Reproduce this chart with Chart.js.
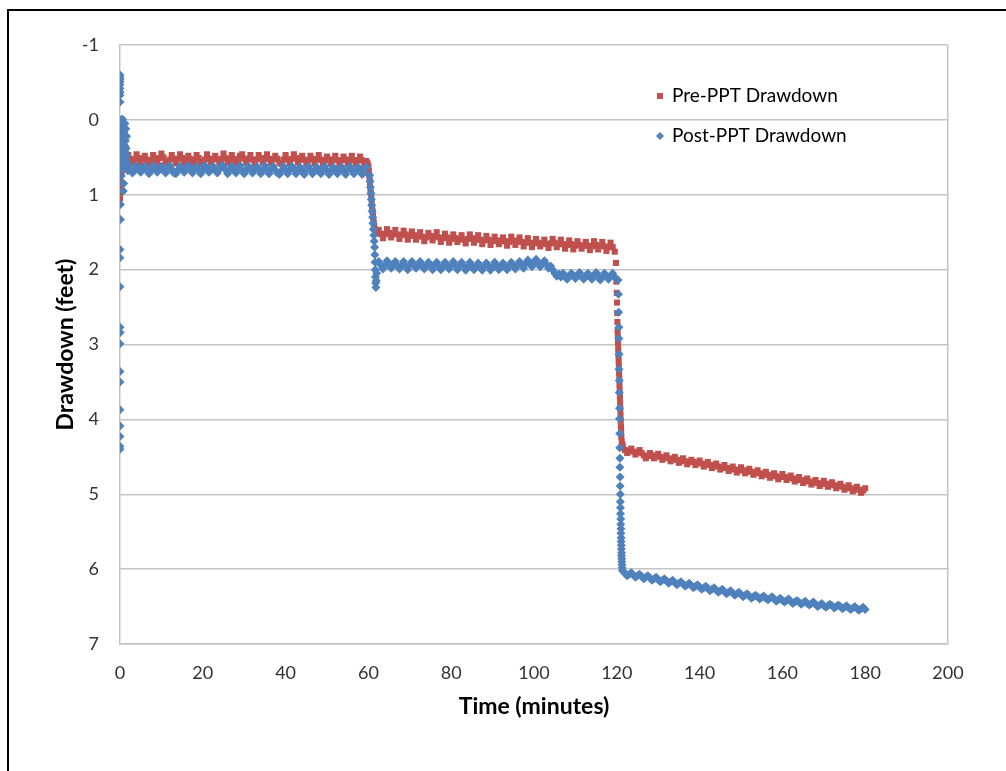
<!DOCTYPE html>
<html lang="en">
<head>
<meta charset="UTF-8">
<title>Drawdown vs Time</title>
<script src="https://cdn.jsdelivr.net/npm/chart.js"></script>
<style>
  body { margin: 0; background: #fff; }
  .frame { position: relative; width: 1006px; height: 771px; overflow: hidden; }
  .frame::before {
    content: ''; position: absolute; left: 7px; top: 9px; right: -10px; bottom: -10px;
    border-top: 2px solid #000; border-left: 2px solid #000;
  }
  #chart { position: absolute; left: 0; top: 0; }
</style>
</head>
<body>
<div class="frame">
  <canvas id="chart" width="1006" height="771"></canvas>
</div>
<script>
// --- logger readings (minutes, feet of drawdown) ---

// start-up transient
const preStartTime = [0, 0, 0, 0.05, 0.05, 0.1, 0.1, 0.15, 0.15, 0.2, 0.2, 0.25, 0.25, 0.3, 0.4, 0.5, 0.6, 0.7, 0.8, 1.0, 1.2, 1.5,
  0.3, 0.4, 0.2, 0.5];
const preStartFt   = [1.05, 0.98, 0.90, 0.82, 0.74, 0.66, 0.58, 0.50, 0.42, 0.34, 0.26, 0.18, 0.10, 0.03, 0.0, 0.08, 0.16, 0.24, 0.32, 0.40, 0.45, 0.47,
  0.85, 0.70, 0.95, 0.60];

const postStartTime = [0, 0, 0, 0, 0, 0, 0, 0, 0,
  0.1, 0.1, 0, 0, 0, 0, 0.05, 0, 0, 0, 0, 0, 0, 0, 0,
  0.2, 0.4, 0.6, 0.3, 0.5, 0.7, 0.4, 0.6, 0.8, 0.5, 0.7, 0.9, 0.6, 0.8, 1.0, 1.2, 1.1, 1.3, 1.5, 1.7, 0.9, 0.8, 1.0, 1.4,
  1.2, 1.4, 1.6, 1.0, 1.2, 1.5, 0.9, 1.3, 1.6, 1.1, 0.3, 0.4, 1.8, 1.9];
const postStartFt = [-0.60, -0.57, -0.54, -0.51, -0.47, -0.42, -0.37, -0.33, -0.24,
  1.13, 1.33, 1.73, 1.84, 2.23, 2.77, 2.84, 2.99, 3.36, 3.50, 3.87, 4.09, 4.23, 4.36, 4.40,
  0.0, 0.0, -0.01, 0.06, 0.10, 0.14, 0.20, 0.25, 0.30, 0.35, 0.40, 0.45, 0.50, 0.55, 0.60, 0.35, 0.25, 0.45, 0.55, 0.62, 0.85, 0.95, 0.15, 0.50,
  0.05, 0.12, 0.22, 0.30, 0.42, 0.38, 0.18, 0.28, 0.48, 0.52, 0.75, 0.65, 0.58, 0.68];

// first pumping step
const step1Time = [
  2, 2.5, 3, 3.5, 4, 4.5, 5, 5.5, 6, 6.5,
  7, 7.5, 8, 8.5, 9, 9.5, 10, 10.5, 11, 11.5,
  12, 12.5, 13, 13.5, 14, 14.5, 15, 15.5, 16, 16.5,
  17, 17.5, 18, 18.5, 19, 19.5, 20, 20.5, 21, 21.5,
  22, 22.5, 23, 23.5, 24, 24.5, 25, 25.5, 26, 26.5,
  27, 27.5, 28, 28.5, 29, 29.5, 30, 30.5, 31, 31.5,
  32, 32.5, 33, 33.5, 34, 34.5, 35, 35.5, 36, 36.5,
  37, 37.5, 38, 38.5, 39, 39.5, 40, 40.5, 41, 41.5,
  42, 42.5, 43, 43.5, 44, 44.5, 45, 45.5, 46, 46.5,
  47, 47.5, 48, 48.5, 49, 49.5, 50, 50.5, 51, 51.5,
  52, 52.5, 53, 53.5, 54, 54.5, 55, 55.5, 56, 56.5,
  57, 57.5, 58, 58.5, 59, 59.5];
const preStep1Ft = [
  0.47, 0.52, 0.58, 0.53, 0.46, 0.51, 0.57, 0.52, 0.48, 0.53,
  0.59, 0.54, 0.47, 0.52, 0.57, 0.51, 0.45, 0.50, 0.56, 0.58,
  0.53, 0.47, 0.52, 0.58, 0.52, 0.46, 0.51, 0.57, 0.53, 0.48,
  0.52, 0.58, 0.54, 0.47, 0.51, 0.56, 0.59, 0.53, 0.46, 0.52,
  0.57, 0.52, 0.48, 0.53, 0.58, 0.52, 0.45, 0.51, 0.57, 0.53,
  0.47, 0.52, 0.58, 0.54, 0.48, 0.46, 0.52, 0.57, 0.52, 0.47,
  0.53, 0.59, 0.53, 0.47, 0.51, 0.57, 0.52, 0.46, 0.52, 0.58,
  0.53, 0.48, 0.52, 0.57, 0.59, 0.53, 0.47, 0.53, 0.58, 0.52,
  0.46, 0.51, 0.57, 0.53, 0.48, 0.53, 0.59, 0.54, 0.48, 0.52,
  0.58, 0.53, 0.47, 0.53, 0.59, 0.54, 0.49, 0.53, 0.58, 0.53,
  0.48, 0.54, 0.60, 0.54, 0.49, 0.53, 0.59, 0.54, 0.48, 0.54,
  0.59, 0.54, 0.49, 0.54, 0.60, 0.55];
const postStep1Ft = [
  0.62, 0.66, 0.71, 0.67, 0.61, 0.66, 0.70, 0.65, 0.62, 0.67,
  0.72, 0.67, 0.61, 0.65, 0.70, 0.66, 0.62, 0.67, 0.71, 0.66,
  0.61, 0.66, 0.71, 0.72, 0.67, 0.62, 0.66, 0.70, 0.65, 0.61,
  0.66, 0.71, 0.66, 0.62, 0.67, 0.72, 0.67, 0.61, 0.65, 0.70,
  0.66, 0.62, 0.67, 0.71, 0.66, 0.61, 0.62, 0.67, 0.72, 0.67,
  0.62, 0.66, 0.71, 0.66, 0.61, 0.67, 0.72, 0.67, 0.62, 0.66,
  0.71, 0.67, 0.62, 0.66, 0.72, 0.67, 0.61, 0.67, 0.72, 0.66,
  0.62, 0.67, 0.71, 0.73, 0.68, 0.62, 0.67, 0.72, 0.67, 0.62,
  0.66, 0.72, 0.67, 0.63, 0.68, 0.73, 0.67, 0.62, 0.67, 0.72,
  0.68, 0.63, 0.67, 0.72, 0.67, 0.62, 0.68, 0.73, 0.68, 0.63,
  0.67, 0.72, 0.68, 0.63, 0.68, 0.73, 0.67, 0.62, 0.67, 0.72,
  0.68, 0.63, 0.68, 0.73, 0.67, 0.63];

// rate change at 60 minutes
const preDrop1Time = [59.8, 60.0, 60.1, 60.2, 60.3, 60.4, 60.5, 60.6, 60.7, 60.8, 60.9, 61.0, 61.1, 61.2, 61.3, 61.4, 61.5, 61.7, 62.0];
const preDrop1Ft   = [0.58, 0.62, 0.68, 0.74, 0.80, 0.86, 0.92, 0.98, 1.04, 1.10, 1.16, 1.22, 1.28, 1.33, 1.38, 1.42, 1.46, 1.49, 1.52];
const postDrop1Time = [60.3, 60.4, 60.5, 60.6, 60.7, 60.8, 60.9, 61.0, 61.1, 61.2, 61.3, 61.4, 61.5, 61.55, 61.6, 61.65, 61.7, 61.75, 61.8, 61.9, 62.0];
const postDrop1Ft   = [0.74, 0.82, 0.90, 0.98, 1.06, 1.14, 1.22, 1.30, 1.38, 1.46, 1.54, 1.62, 1.70, 1.80, 1.90, 2.00, 2.10, 2.18, 2.24, 2.15, 2.05];

// second pumping step
const step2Time = [
  62.5, 63, 63.5, 64, 64.5, 65, 65.5, 66, 66.5,
  67, 67.5, 68, 68.5, 69, 69.5, 70, 70.5, 71, 71.5,
  72, 72.5, 73, 73.5, 74, 74.5, 75, 75.5, 76, 76.5,
  77, 77.5, 78, 78.5, 79, 79.5, 80, 80.5, 81, 81.5,
  82, 82.5, 83, 83.5, 84, 84.5, 85, 85.5, 86, 86.5,
  87, 87.5, 88, 88.5, 89, 89.5, 90, 90.5, 91, 91.5,
  92, 92.5, 93, 93.5, 94, 94.5, 95, 95.5, 96, 96.5,
  97, 97.5, 98, 98.5, 99, 99.5, 100, 100.5, 101, 101.5,
  102, 102.5, 103, 103.5, 104, 104.5, 105, 105.5, 106, 106.5,
  107, 107.5, 108, 108.5, 109, 109.5, 110, 110.5, 111, 111.5,
  112, 112.5, 113, 113.5, 114, 114.5, 115, 115.5, 116, 116.5,
  117, 117.5, 118, 118.5, 119, 119.5];
const preStep2Ft = [
  1.47, 1.52, 1.58, 1.53, 1.46, 1.51, 1.57, 1.52, 1.47,
  1.53, 1.59, 1.54, 1.48, 1.53, 1.60, 1.55, 1.49, 1.54, 1.60,
  1.55, 1.50, 1.56, 1.62, 1.57, 1.51, 1.55, 1.61, 1.56, 1.50,
  1.57, 1.63, 1.58, 1.52, 1.57, 1.64, 1.59, 1.53, 1.58, 1.63,
  1.59, 1.54, 1.60, 1.65, 1.59, 1.53, 1.58, 1.64, 1.60, 1.54,
  1.60, 1.66, 1.61, 1.55, 1.60, 1.67, 1.62, 1.56, 1.61, 1.66,
  1.62, 1.57, 1.62, 1.68, 1.63, 1.56, 1.61, 1.67, 1.62, 1.57,
  1.63, 1.69, 1.64, 1.58, 1.64, 1.70, 1.65, 1.59, 1.64, 1.69,
  1.65, 1.60, 1.66, 1.71, 1.65, 1.59, 1.64, 1.70, 1.66, 1.60,
  1.66, 1.72, 1.67, 1.61, 1.66, 1.73, 1.68, 1.62, 1.67, 1.72,
  1.68, 1.63, 1.68, 1.74, 1.69, 1.62, 1.67, 1.73, 1.68, 1.63,
  1.69, 1.75, 1.70, 1.64, 1.70, 1.76];
const postStep2Ft = [
  1.89, 1.94, 1.99, 1.94, 1.88, 1.93, 1.98, 1.93, 1.89,
  1.94, 1.99, 1.95, 1.89, 1.94, 2.00, 1.94, 1.89, 1.93, 1.98,
  1.94, 1.89, 1.94, 1.99, 1.95, 1.90, 1.94, 2.00, 1.95, 1.90,
  1.95, 2.00, 1.95, 1.90, 1.94, 1.99, 1.95, 1.89, 1.94, 2.00,
  1.95, 1.90, 1.95, 2.01, 1.96, 1.90, 1.95, 2.00, 1.96, 1.91,
  1.96, 2.01, 1.96, 1.91, 1.95, 2.01, 1.96, 1.90, 1.95, 2.00,
  1.96, 1.91, 1.95, 2.00, 1.95, 1.90, 1.94, 1.99, 1.94, 1.89,
  1.93, 1.98, 1.92, 1.87, 1.91, 1.96, 1.91, 1.86, 1.91, 1.96,
  1.92, 1.88, 1.93, 1.98, 1.95, 2.00, 2.05, 2.09, 2.06, 2.10,
  2.05, 2.09, 2.13, 2.09, 2.05, 2.08, 2.12, 2.08, 2.04, 2.09,
  2.13, 2.09, 2.05, 2.09, 2.13, 2.08, 2.04, 2.09, 2.14, 2.10,
  2.05, 2.09, 2.13, 2.09, 2.05, 2.10];

// rate change at 120 minutes
const preDrop2Time = [119.8, 119.9, 120.0, 120.05, 120.1, 120.15, 120.2, 120.25, 120.3, 120.35, 120.4, 120.45, 120.5, 120.55, 120.6,
  120.65, 120.7, 120.75, 120.8, 120.85, 120.9, 120.95, 121.0, 121.05, 121.1, 121.2, 121.4];
const preDrop2Ft   = [1.91, 2.16, 2.31, 2.44, 2.58, 2.70, 2.82, 2.90, 2.98, 3.06, 3.14, 3.22, 3.30, 3.38, 3.46,
  3.54, 3.62, 3.70, 3.78, 3.86, 3.94, 4.02, 4.10, 4.17, 4.24, 4.30, 4.34];
const postDrop2Time = [120.3, 120.4, 120.45, 120.5, 120.5, 120.55, 120.55, 120.6, 120.6, 120.65, 120.65, 120.7, 120.7, 120.75, 120.75,
  120.8, 120.8, 120.85, 120.85, 120.9, 120.9, 120.95, 120.95, 121.0, 121.0, 121.05, 121.05, 121.1, 121.1, 121.15, 121.15,
  121.2, 121.2, 121.25, 121.3, 121.4];
const postDrop2Ft   = [2.14, 2.33, 2.57, 2.77, 2.92, 3.13, 3.33, 3.48, 3.64, 3.85, 3.99, 4.19, 4.38, 4.52, 4.64,
  4.77, 4.89, 5.00, 5.10, 5.18, 5.26, 5.33, 5.40, 5.46, 5.52, 5.58, 5.63, 5.68, 5.73, 5.78, 5.82,
  5.86, 5.90, 5.94, 5.98, 6.02];

// third pumping step
const step3Time = [
  121.5, 122, 122.5, 123, 123.5, 124, 124.5, 125, 125.5,
  126, 126.5, 127, 127.5, 128, 128.5, 129, 129.5, 130, 130.5,
  131, 131.5, 132, 132.5, 133, 133.5, 134, 134.5, 135, 135.5,
  136, 136.5, 137, 137.5, 138, 138.5, 139, 139.5, 140, 140.5,
  141, 141.5, 142, 142.5, 143, 143.5, 144, 144.5, 145, 145.5,
  146, 146.5, 147, 147.5, 148, 148.5, 149, 149.5, 150, 150.5,
  151, 151.5, 152, 152.5, 153, 153.5, 154, 154.5, 155, 155.5,
  156, 156.5, 157, 157.5, 158, 158.5, 159, 159.5, 160, 160.5,
  161, 161.5, 162, 162.5, 163, 163.5, 164, 164.5, 165, 165.5,
  166, 166.5, 167, 167.5, 168, 168.5, 169, 169.5, 170, 170.5,
  171, 171.5, 172, 172.5, 173, 173.5, 174, 174.5, 175, 175.5,
  176, 176.5, 177, 177.5, 178, 178.5, 179, 179.5, 180];
const preStep3Ft = [
  4.38, 4.41, 4.45, 4.42, 4.39, 4.43, 4.47, 4.44, 4.41,
  4.45, 4.48, 4.52, 4.49, 4.45, 4.48, 4.52, 4.49, 4.46, 4.50,
  4.54, 4.51, 4.48, 4.52, 4.56, 4.53, 4.50, 4.54, 4.58, 4.55,
  4.52, 4.56, 4.60, 4.57, 4.54, 4.57, 4.61, 4.58, 4.55, 4.59,
  4.63, 4.60, 4.57, 4.61, 4.65, 4.62, 4.59, 4.63, 4.67, 4.64,
  4.61, 4.65, 4.69, 4.66, 4.63, 4.67, 4.71, 4.68, 4.64, 4.68,
  4.72, 4.69, 4.66, 4.70, 4.74, 4.71, 4.68, 4.72, 4.76, 4.73,
  4.70, 4.74, 4.78, 4.75, 4.72, 4.76, 4.80, 4.77, 4.73, 4.77,
  4.81, 4.78, 4.75, 4.79, 4.83, 4.80, 4.77, 4.81, 4.85, 4.82,
  4.79, 4.83, 4.87, 4.84, 4.81, 4.85, 4.89, 4.86, 4.82, 4.86,
  4.90, 4.87, 4.84, 4.88, 4.92, 4.89, 4.86, 4.90, 4.94, 4.91,
  4.88, 4.92, 4.96, 4.93, 4.90, 4.94, 4.98, 4.95, 4.92];
const postStep3Ft = [
  6.03, 6.06, 6.09, 6.07, 6.05, 6.08, 6.11, 6.09, 6.07, 6.10,
  6.13, 6.11, 6.09, 6.12, 6.15, 6.13, 6.11, 6.14, 6.17, 6.15,
  6.13, 6.16, 6.19, 6.17, 6.15, 6.18, 6.21, 6.19, 6.17, 6.20,
  6.23, 6.21, 6.19, 6.22, 6.25, 6.23, 6.21, 6.24, 6.27, 6.25,
  6.23, 6.26, 6.29, 6.27, 6.25, 6.28, 6.31, 6.29, 6.27, 6.30,
  6.33, 6.31, 6.29, 6.32, 6.35, 6.33, 6.31, 6.34, 6.37, 6.35,
  6.33, 6.36, 6.39, 6.37, 6.35, 6.37, 6.40, 6.38, 6.36, 6.39,
  6.41, 6.39, 6.37, 6.40, 6.43, 6.41, 6.39, 6.42, 6.44, 6.42,
  6.40, 6.43, 6.46, 6.44, 6.42, 6.44, 6.47, 6.45, 6.43, 6.46,
  6.48, 6.46, 6.44, 6.47, 6.50, 6.48, 6.46, 6.49, 6.51, 6.49,
  6.47, 6.49, 6.52, 6.50, 6.48, 6.50, 6.53, 6.51, 6.49, 6.52,
  6.54, 6.52, 6.50, 6.53, 6.55, 6.53, 6.51, 6.54];

const xTicks = { min: 0, max: 200, step: 20 };
const yTicks = { min: -1, max: 7, step: 1 };

function pairs(times, feet) {
  return times.map((t, i) => ({ x: t, y: feet[i] }));
}

const preData = [].concat(
  pairs(preStartTime, preStartFt), pairs(step1Time, preStep1Ft), pairs(preDrop1Time, preDrop1Ft),
  pairs(step2Time, preStep2Ft), pairs(preDrop2Time, preDrop2Ft), pairs(step3Time, preStep3Ft));
const postData = [].concat(
  pairs(postStartTime, postStartFt), pairs(step1Time, postStep1Ft), pairs(postDrop1Time, postDrop1Ft),
  pairs(step2Time, postStep2Ft), pairs(postDrop2Time, postDrop2Ft), pairs(step3Time, postStep3Ft));

const RED = '#C0504D';
const BLUE = '#4F81BD';
const GRID = '#c4c4c4';
const FONT = 'Lato';

// legend sits inside the plot area, like the spreadsheet version
const insideLegend = {
  id: 'insideLegend',
  afterDraw(chart) {
    const { ctx, chartArea } = chart;
    const x0 = chartArea.left + 540;
    const rows = [chartArea.top + 51, chartArea.top + 91];
    ctx.save();
    ctx.font = '19px ' + FONT;
    ctx.textBaseline = 'middle';
    chart.data.datasets.forEach((ds, i) => {
      const y = rows[i];
      ctx.fillStyle = ds.backgroundColor;
      ctx.beginPath();
      if (ds.pointStyle === 'rect') {
        ctx.rect(x0 - 3, y - 3, 6, 6);
      } else {
        ctx.moveTo(x0, y - 4); ctx.lineTo(x0 + 4, y); ctx.lineTo(x0, y + 4); ctx.lineTo(x0 - 4, y);
        ctx.closePath();
      }
      ctx.fill();
      ctx.fillStyle = '#000';
      ctx.fillText(ds.label, x0 + 12, y);
    });
    ctx.restore();
  }
};

new Chart(document.getElementById('chart'), {
  type: 'scatter',
  data: {
    datasets: [
      { label: 'Pre-PPT Drawdown', data: preData, order: 2,
        pointStyle: 'rect', pointRadius: 4.3, borderWidth: 0,
        backgroundColor: RED, borderColor: RED },
      { label: 'Post-PPT Drawdown', data: postData, order: 1,
        pointStyle: 'rectRot', pointRadius: 4.5, borderWidth: 0,
        backgroundColor: BLUE, borderColor: BLUE }
    ]
  },
  options: {
    responsive: false,
    animation: false,
    events: [],
    layout: { padding: { top: 45, right: 58, left: 0, bottom: 0 } },
    plugins: { legend: { display: false }, tooltip: { enabled: false } },
    scales: {
      x: {
        type: 'linear',
        min: xTicks.min, max: xTicks.max,
        afterFit: s => { s.height = 127; },
        border: { color: GRID, width: 1.5 },
        grid: {
          drawTicks: false, lineWidth: 1.5,
          color: c => (c.tick && c.tick.value === xTicks.max ? GRID : 'rgba(0,0,0,0)')
        },
        ticks: { stepSize: xTicks.step, padding: 18, color: '#333', font: { family: FONT, size: 18 } },
        title: { display: true, text: 'Time (minutes)', color: '#000',
          font: { family: FONT, size: 23, weight: 'bold' }, padding: { top: 0, bottom: 51 } }
      },
      y: {
        reverse: true,
        min: yTicks.min, max: yTicks.max,
        afterFit: s => { s.width = 120; },
        border: { color: GRID, width: 1.5 },
        grid: { drawTicks: false, color: GRID, lineWidth: 1.5 },
        ticks: { stepSize: yTicks.step, padding: 21, color: '#333', font: { family: FONT, size: 18 } },
        title: { display: true, text: 'Drawdown (feet)', color: '#000',
          font: { family: FONT, size: 23, weight: 'bold' }, padding: { top: 52, bottom: 0 } }
      }
    }
  },
  plugins: [insideLegend]
});
</script>
</body>
</html>
